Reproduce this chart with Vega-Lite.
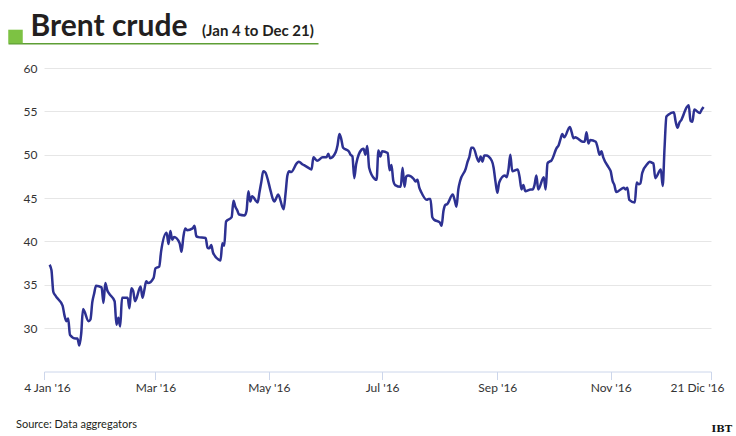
{
  "$schema": "https://vega.github.io/schema/vega-lite/v6.json",
  "autosize": {"type": "none"},
  "width": 667,
  "height": 303.5,
  "padding": {"left": 44, "top": 68, "right": 25, "bottom": 64.5},
  "background": "#ffffff",
  "config": {"view": {"stroke": null}, "font": "Lato"},
  "datasets": {
    "brent": [
      {"date": "2016-01-04", "price": 37.3}, {"date": "2016-01-05", "price": 36.7}, {"date": "2016-01-06", "price": 34.2}, {"date": "2016-01-07", "price": 33.8}, {"date": "2016-01-08", "price": 33.5},
      {"date": "2016-01-11", "price": 32.6}, {"date": "2016-01-12", "price": 31.5}, {"date": "2016-01-13", "price": 30.8}, {"date": "2016-01-14", "price": 31.1}, {"date": "2016-01-15", "price": 29.2},
      {"date": "2016-01-18", "price": 28.8}, {"date": "2016-01-19", "price": 28.8}, {"date": "2016-01-20", "price": 28.0}, {"date": "2016-01-21", "price": 29.3}, {"date": "2016-01-22", "price": 32.2},
      {"date": "2016-01-25", "price": 30.8}, {"date": "2016-01-26", "price": 31.0}, {"date": "2016-01-27", "price": 33.0}, {"date": "2016-01-28", "price": 34.0}, {"date": "2016-01-29", "price": 34.9},
      {"date": "2016-02-01", "price": 34.7}, {"date": "2016-02-02", "price": 32.9}, {"date": "2016-02-03", "price": 35.2}, {"date": "2016-02-04", "price": 34.4}, {"date": "2016-02-05", "price": 34.0},
      {"date": "2016-02-08", "price": 33.1}, {"date": "2016-02-09", "price": 30.4}, {"date": "2016-02-10", "price": 31.2}, {"date": "2016-02-11", "price": 30.2}, {"date": "2016-02-12", "price": 33.5},
      {"date": "2016-02-15", "price": 33.5}, {"date": "2016-02-16", "price": 32.3}, {"date": "2016-02-17", "price": 34.6}, {"date": "2016-02-18", "price": 34.3}, {"date": "2016-02-19", "price": 33.1},
      {"date": "2016-02-22", "price": 34.8}, {"date": "2016-02-23", "price": 33.5}, {"date": "2016-02-24", "price": 34.4}, {"date": "2016-02-25", "price": 35.4}, {"date": "2016-02-26", "price": 35.2},
      {"date": "2016-02-29", "price": 35.8}, {"date": "2016-03-01", "price": 36.9}, {"date": "2016-03-02", "price": 37.0}, {"date": "2016-03-03", "price": 37.1}, {"date": "2016-03-04", "price": 38.8},
      {"date": "2016-03-07", "price": 41.0}, {"date": "2016-03-08", "price": 39.7}, {"date": "2016-03-09", "price": 41.2}, {"date": "2016-03-10", "price": 40.2}, {"date": "2016-03-11", "price": 40.5},
      {"date": "2016-03-14", "price": 39.8}, {"date": "2016-03-15", "price": 38.8}, {"date": "2016-03-16", "price": 40.5}, {"date": "2016-03-17", "price": 41.5}, {"date": "2016-03-18", "price": 41.3},
      {"date": "2016-03-21", "price": 41.5}, {"date": "2016-03-22", "price": 41.8}, {"date": "2016-03-23", "price": 40.6}, {"date": "2016-03-24", "price": 40.5}, {"date": "2016-03-28", "price": 40.4},
      {"date": "2016-03-29", "price": 39.3}, {"date": "2016-03-30", "price": 39.2}, {"date": "2016-03-31", "price": 39.6}, {"date": "2016-04-01", "price": 38.7}, {"date": "2016-04-04", "price": 37.9},
      {"date": "2016-04-05", "price": 37.8}, {"date": "2016-04-06", "price": 39.8}, {"date": "2016-04-07", "price": 39.5}, {"date": "2016-04-08", "price": 42.3}, {"date": "2016-04-11", "price": 42.8},
      {"date": "2016-04-12", "price": 44.7}, {"date": "2016-04-13", "price": 44.0}, {"date": "2016-04-14", "price": 43.6}, {"date": "2016-04-15", "price": 43.1}, {"date": "2016-04-18", "price": 43.0},
      {"date": "2016-04-19", "price": 43.5}, {"date": "2016-04-20", "price": 45.8}, {"date": "2016-04-21", "price": 44.6}, {"date": "2016-04-22", "price": 45.2}, {"date": "2016-04-25", "price": 44.5},
      {"date": "2016-04-26", "price": 45.7}, {"date": "2016-04-27", "price": 46.9}, {"date": "2016-04-28", "price": 48.1}, {"date": "2016-04-29", "price": 48.0}, {"date": "2016-05-02", "price": 45.8},
      {"date": "2016-05-03", "price": 45.0}, {"date": "2016-05-04", "price": 44.6}, {"date": "2016-05-05", "price": 45.0}, {"date": "2016-05-06", "price": 45.4}, {"date": "2016-05-09", "price": 43.7},
      {"date": "2016-05-10", "price": 45.5}, {"date": "2016-05-11", "price": 47.6}, {"date": "2016-05-12", "price": 48.1}, {"date": "2016-05-13", "price": 48.0}, {"date": "2016-05-16", "price": 49.0},
      {"date": "2016-05-17", "price": 49.2}, {"date": "2016-05-18", "price": 49.1}, {"date": "2016-05-19", "price": 48.9}, {"date": "2016-05-20", "price": 48.8}, {"date": "2016-05-23", "price": 48.4},
      {"date": "2016-05-24", "price": 48.3}, {"date": "2016-05-25", "price": 49.7}, {"date": "2016-05-26", "price": 49.5}, {"date": "2016-05-27", "price": 49.3}, {"date": "2016-05-30", "price": 49.7},
      {"date": "2016-05-31", "price": 49.7}, {"date": "2016-06-01", "price": 49.7}, {"date": "2016-06-02", "price": 50.1}, {"date": "2016-06-03", "price": 49.6}, {"date": "2016-06-06", "price": 50.3},
      {"date": "2016-06-07", "price": 51.1}, {"date": "2016-06-08", "price": 52.4}, {"date": "2016-06-09", "price": 51.8}, {"date": "2016-06-10", "price": 50.8}, {"date": "2016-06-13", "price": 50.4},
      {"date": "2016-06-14", "price": 50.0}, {"date": "2016-06-15", "price": 49.8}, {"date": "2016-06-16", "price": 47.3}, {"date": "2016-06-17", "price": 48.9}, {"date": "2016-06-20", "price": 50.6},
      {"date": "2016-06-21", "price": 50.7}, {"date": "2016-06-22", "price": 50.0}, {"date": "2016-06-23", "price": 51.0}, {"date": "2016-06-24", "price": 48.5}, {"date": "2016-06-27", "price": 47.2},
      {"date": "2016-06-28", "price": 47.1}, {"date": "2016-06-29", "price": 50.5}, {"date": "2016-06-30", "price": 49.8}, {"date": "2016-07-01", "price": 50.4}, {"date": "2016-07-04", "price": 50.2},
      {"date": "2016-07-05", "price": 48.2}, {"date": "2016-07-06", "price": 48.8}, {"date": "2016-07-07", "price": 47.0}, {"date": "2016-07-08", "price": 46.5}, {"date": "2016-07-11", "price": 46.3},
      {"date": "2016-07-12", "price": 48.5}, {"date": "2016-07-13", "price": 46.3}, {"date": "2016-07-14", "price": 47.5}, {"date": "2016-07-15", "price": 47.6}, {"date": "2016-07-18", "price": 47.2},
      {"date": "2016-07-19", "price": 46.9}, {"date": "2016-07-20", "price": 47.1}, {"date": "2016-07-21", "price": 46.2}, {"date": "2016-07-22", "price": 45.7}, {"date": "2016-07-25", "price": 44.8},
      {"date": "2016-07-26", "price": 44.9}, {"date": "2016-07-27", "price": 44.9}, {"date": "2016-07-28", "price": 42.8}, {"date": "2016-07-29", "price": 42.5}, {"date": "2016-08-01", "price": 42.2},
      {"date": "2016-08-02", "price": 41.8}, {"date": "2016-08-03", "price": 43.5}, {"date": "2016-08-04", "price": 44.2}, {"date": "2016-08-05", "price": 44.3}, {"date": "2016-08-08", "price": 45.4},
      {"date": "2016-08-09", "price": 44.8}, {"date": "2016-08-10", "price": 44.0}, {"date": "2016-08-11", "price": 46.0}, {"date": "2016-08-12", "price": 47.0}, {"date": "2016-08-15", "price": 48.4},
      {"date": "2016-08-16", "price": 49.2}, {"date": "2016-08-17", "price": 49.8}, {"date": "2016-08-18", "price": 50.8}, {"date": "2016-08-19", "price": 50.8}, {"date": "2016-08-22", "price": 49.2},
      {"date": "2016-08-23", "price": 49.8}, {"date": "2016-08-24", "price": 49.2}, {"date": "2016-08-25", "price": 49.9}, {"date": "2016-08-26", "price": 49.9}, {"date": "2016-08-29", "price": 49.3},
      {"date": "2016-08-30", "price": 48.5}, {"date": "2016-08-31", "price": 46.9}, {"date": "2016-09-01", "price": 45.6}, {"date": "2016-09-02", "price": 46.8}, {"date": "2016-09-05", "price": 47.6},
      {"date": "2016-09-06", "price": 47.4}, {"date": "2016-09-07", "price": 48.3}, {"date": "2016-09-08", "price": 50.0}, {"date": "2016-09-09", "price": 48.1}, {"date": "2016-09-12", "price": 48.3},
      {"date": "2016-09-13", "price": 47.4}, {"date": "2016-09-14", "price": 46.0}, {"date": "2016-09-15", "price": 46.5}, {"date": "2016-09-16", "price": 45.8}, {"date": "2016-09-19", "price": 46.0},
      {"date": "2016-09-20", "price": 46.0}, {"date": "2016-09-21", "price": 46.5}, {"date": "2016-09-22", "price": 47.6}, {"date": "2016-09-23", "price": 46.0}, {"date": "2016-09-26", "price": 47.4},
      {"date": "2016-09-27", "price": 46.0}, {"date": "2016-09-28", "price": 49.0}, {"date": "2016-09-29", "price": 49.2}, {"date": "2016-09-30", "price": 49.3}, {"date": "2016-10-03", "price": 50.8},
      {"date": "2016-10-04", "price": 51.1}, {"date": "2016-10-05", "price": 51.8}, {"date": "2016-10-06", "price": 52.4}, {"date": "2016-10-07", "price": 52.0}, {"date": "2016-10-10", "price": 53.2},
      {"date": "2016-10-11", "price": 52.6}, {"date": "2016-10-12", "price": 51.9}, {"date": "2016-10-13", "price": 52.0}, {"date": "2016-10-14", "price": 51.9}, {"date": "2016-10-17", "price": 51.5},
      {"date": "2016-10-18", "price": 51.5}, {"date": "2016-10-19", "price": 52.6}, {"date": "2016-10-20", "price": 51.3}, {"date": "2016-10-21", "price": 51.7}, {"date": "2016-10-24", "price": 51.5},
      {"date": "2016-10-25", "price": 50.8}, {"date": "2016-10-26", "price": 50.0}, {"date": "2016-10-27", "price": 50.4}, {"date": "2016-10-28", "price": 49.7}, {"date": "2016-10-31", "price": 48.5},
      {"date": "2016-11-01", "price": 48.1}, {"date": "2016-11-02", "price": 47.0}, {"date": "2016-11-03", "price": 46.5}, {"date": "2016-11-04", "price": 45.7}, {"date": "2016-11-07", "price": 46.1},
      {"date": "2016-11-08", "price": 46.2}, {"date": "2016-11-09", "price": 46.0}, {"date": "2016-11-10", "price": 46.2}, {"date": "2016-11-11", "price": 44.8}, {"date": "2016-11-14", "price": 44.5},
      {"date": "2016-11-15", "price": 46.8}, {"date": "2016-11-16", "price": 46.6}, {"date": "2016-11-17", "price": 46.7}, {"date": "2016-11-18", "price": 47.9}, {"date": "2016-11-21", "price": 49.0},
      {"date": "2016-11-22", "price": 49.2}, {"date": "2016-11-23", "price": 49.1}, {"date": "2016-11-24", "price": 49.0}, {"date": "2016-11-25", "price": 47.3}, {"date": "2016-11-28", "price": 48.3},
      {"date": "2016-11-29", "price": 46.4}, {"date": "2016-11-30", "price": 50.8}, {"date": "2016-12-01", "price": 54.4}, {"date": "2016-12-02", "price": 54.6}, {"date": "2016-12-05", "price": 54.9},
      {"date": "2016-12-06", "price": 53.8}, {"date": "2016-12-07", "price": 53.1}, {"date": "2016-12-08", "price": 53.7}, {"date": "2016-12-09", "price": 54.0}, {"date": "2016-12-12", "price": 55.5},
      {"date": "2016-12-13", "price": 55.7}, {"date": "2016-12-14", "price": 53.9}, {"date": "2016-12-15", "price": 53.8}, {"date": "2016-12-16", "price": 55.2}, {"date": "2016-12-19", "price": 54.8},
      {"date": "2016-12-20", "price": 55.2}, {"date": "2016-12-21", "price": 55.5}
    ]
  },
  "data": {"name": "brent"},
  "resolve": {"scale": {"x": "independent", "y": "independent"}},
  "layer": [
    {
      "mark": {"type": "line", "color": "#2d3192", "strokeWidth": 2.5, "interpolate": "monotone"},
      "encoding": {
        "x": {
          "field": "date", "type": "temporal",
          "scale": {"type": "utc", "domain": [{"year": 2016, "month": 1, "date": 1, "utc": true}, {"year": 2016, "month": 12, "date": 25, "utc": true}], "nice": false},
          "axis": {
            "orient": "bottom",
            "values": [
              {"year": 2016, "month": 1, "date": 1, "utc": true},
              {"year": 2016, "month": 3, "date": 1, "utc": true},
              {"year": 2016, "month": 5, "date": 1, "utc": true},
              {"year": 2016, "month": 7, "date": 1, "utc": true},
              {"year": 2016, "month": 9, "date": 1, "utc": true},
              {"year": 2016, "month": 11, "date": 1, "utc": true},
              {"year": 2016, "month": 12, "date": 25, "utc": true}
            ],
            "labelExpr": "utcmonth(datum.value) == 0 ? \"4 Jan '16\" : utcmonth(datum.value) == 11 ? \"21 Dic '16\" : utcFormat(datum.value, \"%b '%y\")",
            "labelOffset": {"condition": [{"test": "utcmonth(datum.value) == 11", "value": -14}, {"test": "utcmonth(datum.value) == 0", "value": 3}], "value": 0},
            "grid": false,
            "domainColor": "#ccd6eb", "domainWidth": 1,
            "tickColor": "#ccd6eb", "tickSize": 8, "tickWidth": 1,
            "labelFont": "Lato", "labelFontSize": 12, "labelColor": "#333333", "labelPadding": 3,
            "labelOverlap": false, "labelFlush": false, "labelBound": false,
            "title": "Source: Data aggregators",
            "titleFont": "Lato", "titleFontSize": 11, "titleFontWeight": "normal", "titleColor": "#231f20",
            "titleAlign": "left", "titleBaseline": "alphabetic", "titleAnchor": "start",
            "titleX": -28.5, "titleY": 56
          }
        },
        "y": {
          "field": "price", "type": "quantitative",
          "scale": {"domain": [25, 60], "nice": false, "zero": false},
          "axis": {
            "orient": "left",
            "values": [30, 35, 40, 45, 50, 55, 60],
            "grid": true, "gridColor": "#e6e6e6", "gridWidth": 1,
            "domain": false, "ticks": false, "tickSize": 0,
            "labelFont": "Lato", "labelFontSize": 12, "labelColor": "#333333", "labelPadding": 7,
            "title": "(Jan 4 to Dec 21)",
            "titleFont": "Lato", "titleFontSize": 15, "titleFontWeight": "bold", "titleColor": "#231f20",
            "titleAngle": 0, "titleAlign": "left", "titleBaseline": "alphabetic", "titleAnchor": "start",
            "titleX": 157.5, "titleY": -32.5
          }
        }
      }
    },
    {
      "mark": {"type": "line", "opacity": 0},
      "encoding": {
        "x": {
          "field": "date", "type": "temporal",
          "scale": {"type": "utc", "nice": false, "range": [-36, 274]},
          "axis": {
            "orient": "top", "offset": 24.7,
            "labels": false, "ticks": false, "grid": false,
            "domainColor": "#5e9e35", "domainWidth": 1.6, "domainCap": "butt",
            "title": "IBT",
            "titleFont": "DejaVu Serif", "titleFontSize": 10, "titleFontWeight": "bold", "titleColor": "#111111",
            "titleAlign": "left", "titleBaseline": "alphabetic", "titleAnchor": "start",
            "titleX": 667, "titleY": 388
          }
        },
        "y": {
          "field": "price", "type": "quantitative",
          "scale": {"domain": [25, 60], "nice": false, "zero": false, "range": [-25.2, -38.8]},
          "axis": {
            "orient": "right", "offset": -696,
            "labels": false, "ticks": false, "grid": false,
            "domainColor": "#7dc243", "domainWidth": 14.5, "domainCap": "butt",
            "title": "Brent crude",
            "titleFont": "Lato", "titleFontSize": 30, "titleFontWeight": "bold", "titleColor": "#231f20",
            "titleAngle": 0, "titleAlign": "left", "titleBaseline": "alphabetic", "titleAnchor": "start",
            "titleX": 15, "titleY": -33
          }
        }
      }
    }
  ]
}
